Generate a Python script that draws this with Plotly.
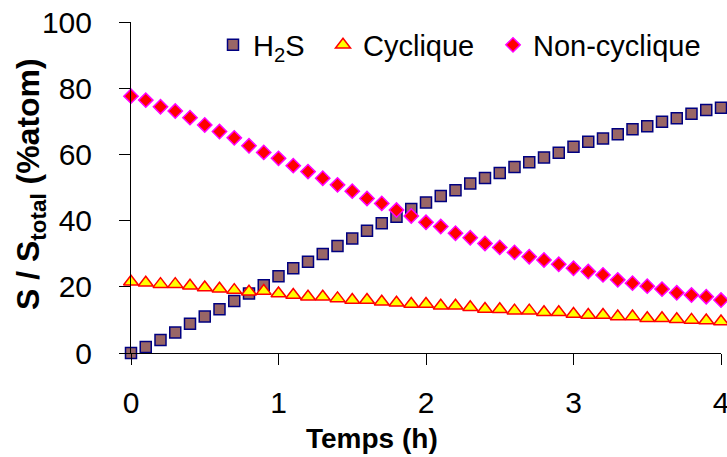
import plotly.graph_objects as go

temps = [0.0, 0.1, 0.2, 0.3, 0.4, 0.5, 0.6, 0.7, 0.8, 0.9, 1.0,
         1.1, 1.2, 1.3, 1.4, 1.5, 1.6, 1.7, 1.8, 1.9, 2.0,
         2.1, 2.2, 2.3, 2.4, 2.5, 2.6, 2.7, 2.8, 2.9, 3.0,
         3.1, 3.2, 3.3, 3.4, 3.5, 3.6, 3.7, 3.8, 3.9, 4.0]

h2s = [0.0, 1.8, 3.9, 6.2, 8.8, 11.0, 13.2, 15.7, 18.0, 20.5, 23.2,
       25.6, 27.6, 29.9, 32.3, 34.6, 36.9, 39.2, 41.2, 43.5, 45.5,
       47.4, 49.2, 51.2, 52.9, 54.4, 56.2, 57.6, 59.1, 60.5, 62.3,
       63.8, 64.8, 66.1, 67.6, 68.5, 69.9, 70.9, 72.3, 73.4, 74.1]

cyclique = [21.5, 21.2, 20.8, 20.8, 20.3, 19.8, 19.4, 19.0, 18.5, 18.7, 18.0,
            17.5, 17.0, 17.0, 16.5, 16.0, 16.0, 15.5, 15.2, 14.8, 14.8,
            14.3, 14.3, 13.8, 13.3, 13.2, 12.8, 12.8, 12.3, 12.3, 11.8,
            11.5, 11.5, 11.0, 11.0, 10.5, 10.5, 10.2, 10.0, 9.8, 9.5]

non_cyclique = [77.6, 76.4, 74.4, 73.1, 71.1, 68.9, 66.9, 65.0, 62.6, 60.6, 58.8,
                56.6, 54.8, 52.8, 50.8, 48.9, 46.7, 45.2, 43.2, 41.4, 39.5,
                38.2, 36.2, 34.8, 33.1, 31.9, 30.4, 29.1, 28.1, 26.8, 25.6,
                24.6, 23.6, 22.1, 21.1, 20.2, 19.3, 18.2, 17.5, 17.0, 16.0]

series_names = ["H<sub>2</sub>S", "Cyclique", "Non-cyclique"]
x_ticks = [0, 1, 2, 3, 4]
y_ticks = [0, 20, 40, 60, 80, 100]

FONT = "Arial, 'Liberation Sans', sans-serif"

fig = go.Figure()
fig.add_trace(go.Scatter(
    x=temps, y=h2s, mode="markers", name=series_names[0], legend="legend",
    marker=dict(symbol="square", size=11, color="#996666",
                line=dict(color="#000080", width=1.5)),
    cliponaxis=False))
fig.add_trace(go.Scatter(
    x=temps, y=cyclique, mode="markers", name=series_names[1], legend="legend2",
    marker=dict(symbol="triangle-up", size=13, color="#FFFF00",
                line=dict(color="#FF0000", width=1.5)),
    cliponaxis=False))
fig.add_trace(go.Scatter(
    x=temps, y=non_cyclique, mode="markers", name=series_names[2], legend="legend3",
    marker=dict(symbol="diamond", size=11, color="#FF0000",
                line=dict(color="#FF00FF", width=1.5)),
    cliponaxis=False))

W, H = 727, 457
L, R, T, B = 131, 6, 22, 104
pw = W - L - R
ph = H - T - B

def px_x(p):
    return (p - L) / pw

def px_y(p):
    return (H - B - p) / ph

leg_common = dict(orientation="h", xanchor="left", yanchor="middle",
                  font=dict(family=FONT, size=29, color="black"),
                  bgcolor="rgba(0,0,0,0)", borderwidth=0)

fig.update_layout(
    width=W, height=H,
    margin=dict(l=L, r=R, t=T, b=B, autoexpand=False),
    paper_bgcolor="white", plot_bgcolor="white",
    font=dict(family=FONT, color="black"),
    showlegend=True,
    legend=dict(x=px_x(213), y=px_y(45), **leg_common),
    legend2=dict(x=px_x(323), y=px_y(45), **leg_common),
    legend3=dict(x=px_x(493), y=px_y(45), **leg_common),
    xaxis=dict(range=[0, 4], tickvals=x_ticks, ticktext=[str(v) for v in x_ticks],
               showgrid=False, zeroline=False, showline=True, linecolor="black",
               linewidth=1, ticks="outside", ticklen=11, tickcolor="black",
               tickwidth=1, ticklabelstandoff=12, automargin=False,
               ticklabeloverflow="allow",
               tickfont=dict(family=FONT, size=30, color="black")),
    yaxis=dict(range=[0, 100], tickvals=y_ticks, ticktext=[str(v) for v in y_ticks],
               showgrid=False, zeroline=False, showline=True, linecolor="black",
               linewidth=1, ticks="outside", ticklen=11, tickcolor="black",
               tickwidth=1, ticklabelstandoff=21, automargin=False,
               ticklabeloverflow="allow",
               tickfont=dict(family=FONT, size=30, color="black")),
    annotations=[
        dict(text="<b>Temps (h)</b>", xref="paper", yref="paper",
             x=px_x(372), y=px_y(438), xanchor="center", yanchor="middle",
             showarrow=False, font=dict(family=FONT, size=28, color="black")),
        dict(text="<b>S / S<sub>total</sub> (%atom)</b>", xref="paper", yref="paper",
             x=px_x(30), y=px_y(184), xanchor="center", yanchor="middle",
             textangle=-90, showarrow=False,
             font=dict(family=FONT, size=32, color="black")),
    ],
)

fig.write_html("out.html",
               config={"displayModeBar": False},
               post_script="document.body.style.margin='0';"
                           "document.body.style.overflow='hidden';")
